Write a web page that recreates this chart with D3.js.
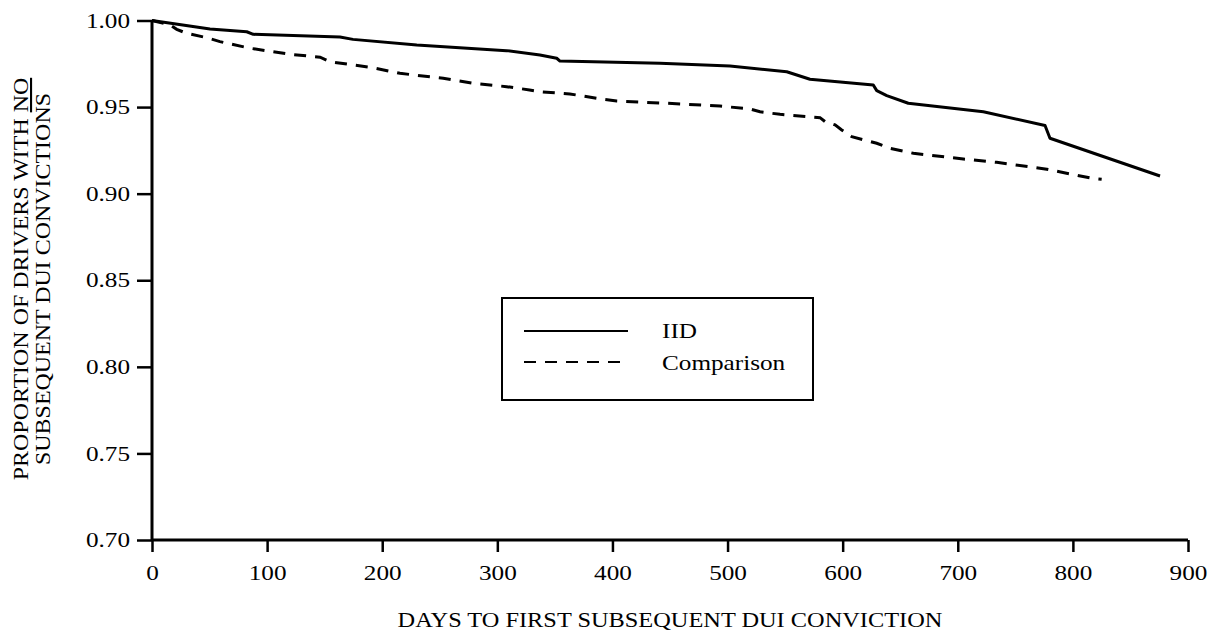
<!DOCTYPE html>
<html>
<head>
<meta charset="utf-8">
<script src="https://cdn.jsdelivr.net/npm/d3@7"></script>
<style>
  html, body { margin: 0; padding: 0; background: #fff; }
  svg text { font-family: "Liberation Serif", "Times New Roman", serif; fill: #000; }
</style>
</head>
<body>
<svg id="chart" width="1217" height="635"></svg>
<script>
// ---- Data ----
const iidDays = [0, 50.4, 82.3, 88, 163.3, 174.6, 230, 308, 337, 351.6, 354.4, 441.3, 502.1, 551.4, 571.6, 626.6, 629.6, 638.3, 657, 722.2, 775.8, 780.1, 875.7];
const iidValues = [1.000, 0.9951, 0.9935, 0.9920, 0.9905, 0.9891, 0.9859, 0.9826, 0.9801, 0.9782, 0.9766, 0.9753, 0.9737, 0.9704, 0.9661, 0.9628, 0.9595, 0.9566, 0.9522, 0.9473, 0.9394, 0.9320, 0.9102];

const compDays = [0, 15.6, 21.5, 30, 47.5, 59, 85, 120, 146, 154.6, 192, 215.4, 253, 279, 308, 328, 337, 363, 391.8, 403.7, 447.1, 493.4, 519.5, 528.2, 545.6, 580.3, 584.7, 593.4, 599.2, 607.9, 629.6, 641.1, 661.4, 704.8, 733.8, 777.3, 816.4, 825];
const compValues = [1.000, 0.9974, 0.9949, 0.9926, 0.9901, 0.9878, 0.9840, 0.9805, 0.9788, 0.9762, 0.9727, 0.9695, 0.9666, 0.9637, 0.9618, 0.9599, 0.9589, 0.9576, 0.9545, 0.9535, 0.9522, 0.9506, 0.9489, 0.9473, 0.9458, 0.9439, 0.9416, 0.9397, 0.9368, 0.9329, 0.9291, 0.9262, 0.9233, 0.9200, 0.9181, 0.9141, 0.9089, 0.9083];

const xTicks = [0, 100, 200, 300, 400, 500, 600, 700, 800, 900];
const yTicks = [0.70, 0.75, 0.80, 0.85, 0.90, 0.95, 1.00];
const seriesNames = ["IID", "Comparison"];
const xTitle = "DAYS TO FIRST SUBSEQUENT DUI CONVICTION";
const yTitle1 = "PROPORTION OF DRIVERS WITH ";
const yTitle1u = "NO";
const yTitle2 = "SUBSEQUENT DUI CONVICTIONS";

// ---- Layout ----
const FS = 21;          // font size
const WIDEN = 1.2;      // the original face is wider than Times
const svg = d3.select("#chart");
const x = d3.scaleLinear().domain([0, 900]).range([152, 1188]);
const y = d3.scaleLinear().domain([0.70, 1.00]).range([540, 20.5]);

function widen(sel, k) {
  sel.each(function () {
    const w = this.getComputedTextLength();
    d3.select(this).attr("textLength", w * k).attr("lengthAdjust", "spacingAndGlyphs");
  });
}

// Axes
const xAxis = svg.append("g").attr("transform", "translate(0,540)")
  .call(d3.axisBottom(x).tickValues(xTicks).tickFormat(d3.format("d")).tickSize(12).tickPadding(8));
const yAxis = svg.append("g").attr("transform", "translate(152,0)")
  .call(d3.axisLeft(y).tickValues(yTicks).tickFormat(d3.format(".2f")).tickSize(15).tickPadding(7));

[xAxis, yAxis].forEach(g => {
  g.select(".domain").attr("stroke", "#000").attr("stroke-width", 3);
  g.selectAll(".tick line").attr("stroke", "#000").attr("stroke-width", 2.5);
  g.selectAll(".tick text").attr("font-family", "Liberation Serif").style("font-size", FS + "px").attr("fill", "#000");
});
xAxis.select(".domain").attr("d", "M152,0H1188");
yAxis.select(".domain").attr("d", "M0,20.5V540");
xAxis.selectAll(".tick text").attr("dy", "0.95em");
widen(xAxis.selectAll(".tick text"), WIDEN);
widen(yAxis.selectAll(".tick text"), WIDEN);

// Lines
const line = d3.line().x(d => x(d[0])).y(d => y(d[1]));
const iid = iidDays.map((d, i) => [d, iidValues[i]]);
const comp = compDays.map((d, i) => [d, compValues[i]]);

svg.append("path").datum(iid).attr("d", line)
  .attr("fill", "none").attr("stroke", "#000").attr("stroke-width", 3).attr("stroke-linejoin", "round");
svg.append("path").datum(comp).attr("d", line)
  .attr("fill", "none").attr("stroke", "#000").attr("stroke-width", 3).attr("stroke-dasharray", "12,9");

// Legend
const lg = svg.append("g");
lg.append("rect").attr("x", 502).attr("y", 298).attr("width", 311).attr("height", 102)
  .attr("fill", "#fff").attr("stroke", "#000").attr("stroke-width", 2);
lg.append("line").attr("x1", 524).attr("x2", 628).attr("y1", 331).attr("y2", 331)
  .attr("stroke", "#000").attr("stroke-width", 2);
lg.append("line").attr("x1", 524).attr("x2", 628).attr("y1", 362).attr("y2", 362)
  .attr("stroke", "#000").attr("stroke-width", 2).attr("stroke-dasharray", "12,9");
const l1 = lg.append("text").attr("x", 662).attr("y", 338).style("font-size", FS + "px").text(seriesNames[0]);
const l2 = lg.append("text").attr("x", 662).attr("y", 370).style("font-size", FS + "px").text(seriesNames[1]);
widen(l1, WIDEN); widen(l2, WIDEN);

// Axis titles
const xt = svg.append("text").attr("x", 670).attr("y", 627).attr("text-anchor", "middle")
  .style("font-size", FS + "px").text(xTitle);
widen(xt, 1.16);

const yt = svg.append("text").attr("transform", "translate(28,279) rotate(-90)")
  .attr("text-anchor", "middle").style("font-size", FS + "px");
yt.append("tspan").text(yTitle1);
yt.append("tspan").style("text-decoration", "underline").text(yTitle1u);
widen(yt, 1.14);
const yt2 = svg.append("text").attr("transform", "translate(50,279) rotate(-90)")
  .attr("text-anchor", "middle").style("font-size", FS + "px").text(yTitle2);
widen(yt2, 1.14);
</script>
</body>
</html>
